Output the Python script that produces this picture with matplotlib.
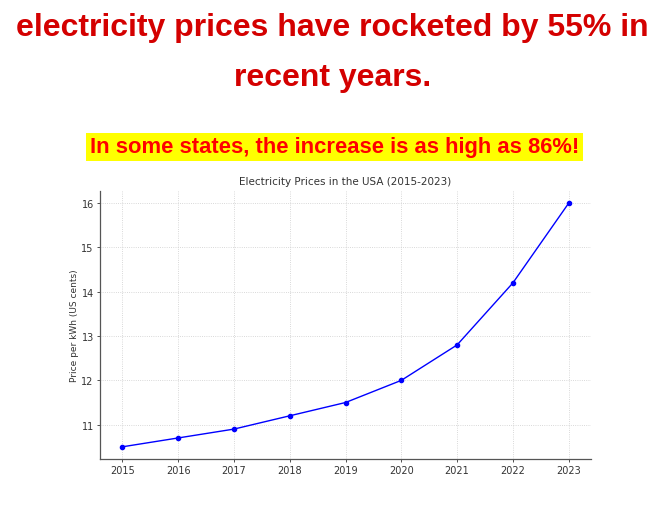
import matplotlib.pyplot as plt
from matplotlib.patches import Rectangle

# data
years = [2015, 2016, 2017, 2018, 2019, 2020, 2021, 2022, 2023]
prices = [10.5, 10.7, 10.9, 11.2, 11.5, 12.0, 12.8, 14.2, 16.0]

headline = ["electricity prices have rocketed by 55% in", "recent years."]
subline = "In some states, the increase is as high as 86%!"

fig = plt.figure(figsize=(6.65, 5.06), dpi=100)
fig.patch.set_facecolor('white')

# headline text
fig.text(0.5, 1 - 28 / 506, headline[0], ha='center', va='center',
         fontsize=23, fontweight='bold', color='#d40000', family='Liberation Sans')
fig.text(0.5, 1 - 78 / 506, headline[1], ha='center', va='center',
         fontsize=23, fontweight='bold', color='#d40000', family='Liberation Sans')
fig.text(0.503, 1 - 148 / 506, subline, ha='center', va='center',
         fontsize=15.8, fontweight='bold', color='#ff0000', family='Liberation Sans',
         bbox=dict(facecolor='#ffff00', edgecolor='none', pad=2.5))

# the chart
ax = fig.add_axes([100 / 665, 1 - 460 / 506, 491 / 665, 268 / 506])
ax.plot(years, prices, color='blue', lw=1, marker='o', ms=3)
ax.set_title('Electricity Prices in the USA (2015-2023)', fontsize=7.5, color='#333333', pad=5)
ax.set_xlabel('Year', fontsize=6.5, color='#333333', labelpad=1)
ax.set_ylabel('Price per kWh (US cents)', fontsize=6.5, color='#333333', labelpad=2)
ax.set_xticks(years)
ax.tick_params(labelsize=7, colors='#333333', length=2, width=0.6, pad=2.5)
ax.grid(True, ls=':', lw=0.6, color='#cccccc')
for s in ['top', 'right']:
    ax.spines[s].set_visible(False)
for s in ['left', 'bottom']:
    ax.spines[s].set_color('#555555')
    ax.spines[s].set_linewidth(0.9)

# the chart picture is cut off just under the x label
fig.add_artist(Rectangle((0, 0), 1, 1 - 477 / 506, transform=fig.transFigure,
                         facecolor='white', edgecolor='none', zorder=10))

fig.savefig('out.png', dpi=100)
